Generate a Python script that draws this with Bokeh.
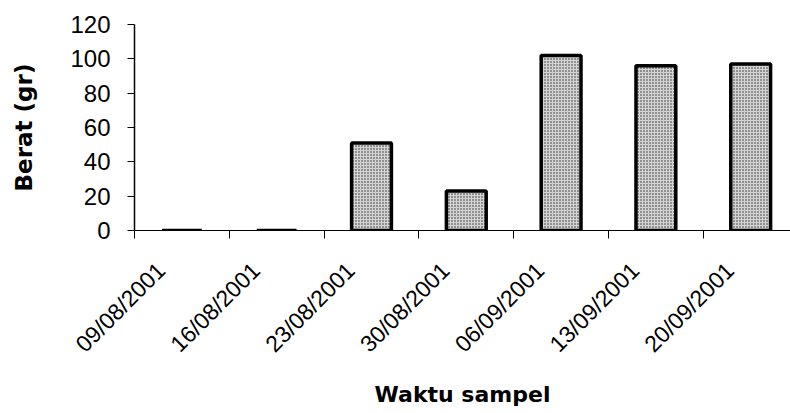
import math
from bokeh.plotting import figure
from bokeh.models import FixedTicker, Range1d, ColumnDataSource
from bokeh.embed import file_html
from bokeh.resources import INLINE

# ---- data ----
dates = ["09/08/2001", "16/08/2001", "23/08/2001", "30/08/2001",
         "06/09/2001", "13/09/2001", "20/09/2001"]
berat = [0, 0, 51, 23, 102, 96, 97]
y_ticks = [0, 20, 40, 60, 80, 100, 120]

n = len(dates)
centers = [i + 0.5 for i in range(n)]
src = ColumnDataSource(dict(x=centers, top=berat, label=dates))

p = figure(width=790, height=413,
           x_range=Range1d(0, 6.92), y_range=Range1d(0, 120),
           output_backend="svg", toolbar_location=None,
           min_border_left=134, min_border_right=0,
           min_border_top=24, min_border_bottom=183)

p.vbar(x="x", top="top", bottom=0, width=0.42, source=src,
       fill_color="#d4d4d4", line_color="black", line_width=3.5,
       hatch_pattern="dot", hatch_color="black", hatch_scale=3,
       hatch_weight=0.8, hatch_alpha=0.8)

p.outline_line_color = None
p.xgrid.visible = False
p.ygrid.visible = False
p.background_fill_color = "white"
p.border_fill_color = "white"

label_shift = 0.22
label_ticks = [c - label_shift for c in centers]
xa = p.xaxis[0]
xa.ticker = FixedTicker(ticks=label_ticks, minor_ticks=list(range(n + 1)))
xa.major_label_overrides = {t: d for t, d in zip(label_ticks, dates)}
xa.major_tick_out = 0
xa.major_tick_in = 0
xa.minor_tick_out = 8
xa.minor_tick_in = 0
xa.minor_tick_line_color = "black"
xa.axis_line_color = "black"
xa.major_label_orientation = math.pi / 4
xa.major_label_text_font = "Liberation Sans"
xa.major_label_text_font_size = "23px"
xa.major_label_text_color = "black"
xa.major_label_standoff = 28
xa.axis_label = "Waktu sampel"
xa.axis_label_text_font = "DejaVu Sans"
xa.axis_label_text_font_style = "bold"
xa.axis_label_text_font_size = "22px"
xa.axis_label_text_color = "black"
xa.axis_label_standoff = 13

ya = p.yaxis[0]
ya.ticker = FixedTicker(ticks=y_ticks)
ya.major_tick_out = 7
ya.major_tick_in = 0
ya.minor_tick_line_color = None
ya.major_tick_line_color = "black"
ya.axis_line_color = "black"
ya.axis_line_width = 1.5
ya.major_label_text_font = "Liberation Sans"
ya.major_label_text_font_size = "24px"
ya.major_label_text_color = "black"
ya.major_label_standoff = 17
ya.axis_label = "Berat (gr)"
ya.axis_label_text_font = "DejaVu Sans"
ya.axis_label_text_font_style = "bold"
ya.axis_label_text_font_size = "23px"
ya.axis_label_text_color = "black"
ya.axis_label_standoff = 30

open("out.html", "w").write(file_html(p, INLINE))
